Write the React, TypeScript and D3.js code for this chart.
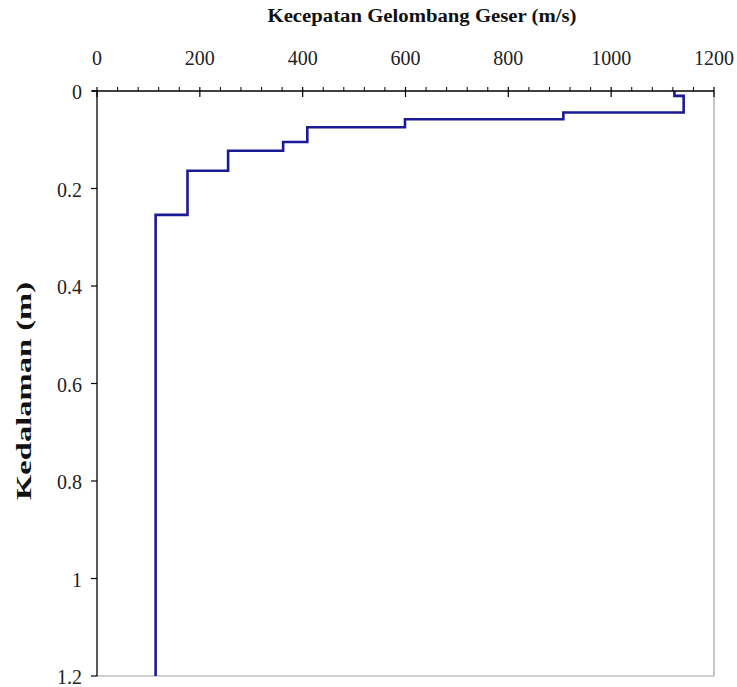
import React from "react";
import * as d3 from "d3";

const layerTops = [0, 0.010, 0.044, 0.058, 0.0745, 0.1046, 0.1225, 0.1635, 0.254];
const layerBottoms = [0.010, 0.044, 0.058, 0.0745, 0.1046, 0.1225, 0.1635, 0.254, 1.2];
const layerVelocities = [1123, 1141, 907, 599, 409, 362, 255, 176, 114];
const xTicks = [0, 200, 400, 600, 800, 1000, 1200];
const yTicks = [0, 0.2, 0.4, 0.6, 0.8, 1, 1.2];

const W = 737, H = 687;
const left = 97, right = 714, top = 91, bottom = 676;

export default function App() {
  const x = d3.scaleLinear().domain([0, 1200]).range([left, right]);
  const y = d3.scaleLinear().domain([0, 1.2]).range([top, bottom]);
  const pts: [number, number][] = [];
  layerVelocities.forEach((v, i) => {
    pts.push([v, layerTops[i]]);
    pts.push([v, layerBottoms[i]]);
  });
  const line = d3.line<[number, number]>().x(d => x(d[0])).y(d => y(d[1]));
  const minor = d3.range(0, 1201, 40).filter(v => v % 200 !== 0);
  const font = "'Liberation Serif', 'Times New Roman', serif";
  return (
    <svg width={W} height={H} style={{ position: "absolute", left: 0, top: 0, background: "#fff" }}>
      <rect x={0} y={0} width={W} height={H} fill="#fff" />
      {/* plot border (gray) */}
      <line x1={right} y1={top} x2={right} y2={bottom} stroke="#a0a0a0" strokeWidth={1.2} />
      <line x1={left} y1={bottom} x2={right} y2={bottom} stroke="#a0a0a0" strokeWidth={1.2} />
      {/* data */}
      <path d={line(pts) || ""} fill="none" stroke="#1a1a96" strokeWidth={2.6} />
      {/* top axis */}
      <line x1={left - 5} y1={top} x2={right} y2={top} stroke="#000" strokeWidth={1.3} />
      {minor.map(v => (
        <line key={"m" + v} x1={x(v)} x2={x(v)} y1={top - 4} y2={top} stroke="#000" strokeWidth={1} />
      ))}
      {xTicks.map(v => (
        <g key={"x" + v}>
          <line x1={x(v)} x2={x(v)} y1={top - 4} y2={top + 6} stroke="#000" strokeWidth={1.2} />
          <text x={x(v)} y={65} textAnchor="middle" fontFamily={font} fontSize={20} fill="#222">{v}</text>
        </g>
      ))}
      {/* left axis */}
      <line x1={left} y1={top} x2={left} y2={bottom} stroke="#000" strokeWidth={1.3} />
      {yTicks.map(v => (
        <g key={"y" + v}>
          <line x1={left - 6} x2={left} y1={y(v)} y2={y(v)} stroke="#000" strokeWidth={1.2} />
          <text x={82} y={y(v) + 8} textAnchor="end" fontFamily={font} fontSize={20} fill="#222">{v}</text>
        </g>
      ))}
      <text x={422} y={22} textAnchor="middle" fontFamily={font} fontSize={18} fontWeight="bold" fill="#111"
        textLength={309} lengthAdjust="spacingAndGlyphs">Kecepatan Gelombang Geser (m/s)</text>
      <text transform={`translate(31,391) rotate(-90)`} textAnchor="middle" fontFamily={font} fontSize={22} fontWeight="bold" fill="#111"
        textLength={218} lengthAdjust="spacingAndGlyphs">Kedalaman (m)</text>
    </svg>
  );
}
